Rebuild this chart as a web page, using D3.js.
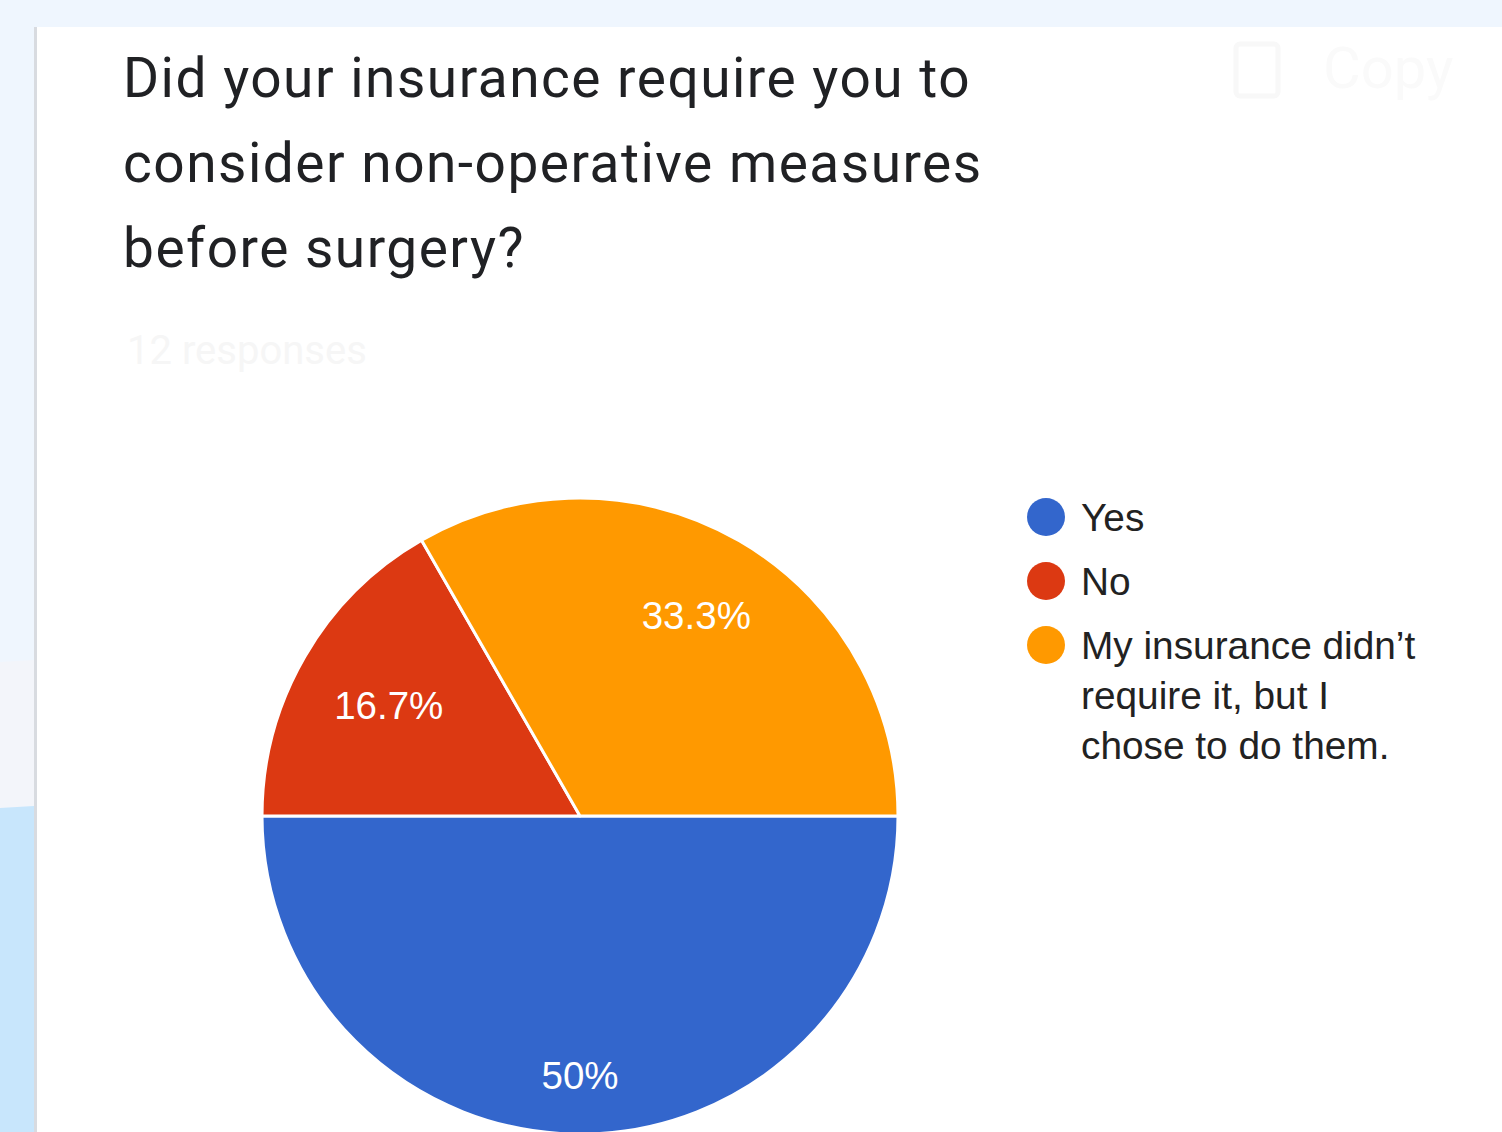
<!DOCTYPE html>
<html>
<head>
<meta charset="utf-8">
<script src="https://cdn.jsdelivr.net/npm/d3@7"></script>
<style>
  html, body { margin: 0; padding: 0; background: #eff6fe; }
  svg { display: block; }
</style>
</head>
<body>
<svg id="chart" width="1502" height="1132"></svg>
<script>
// Survey question and answers
const titleLines = [
  "Did your insurance require you to",
  "consider non-operative measures",
  "before surgery?"
];
const responsesNote = "12 responses";
const categories = ["Yes", "No", "My insurance didn\u2019t require it, but I chose to do them."];
const legendLines = [["Yes"], ["No"], ["My insurance didn\u2019t", "require it, but I", "chose to do them."]];
const shares = [50, 16.7, 33.3];
const sliceLabels = ["50%", "16.7%", "33.3%"];
const colors = ["#3366cc", "#dc3912", "#ff9900"];

const svg = d3.select("#chart");
const W = 1502, H = 1132;

// Page backdrop around the card
svg.append("rect").attr("x", 0).attr("y", 0).attr("width", W).attr("height", H).attr("fill", "#eff6fe");
svg.append("path").attr("d", "M0,662 L34,660 L34,806 L0,808 Z").attr("fill", "#f3f5fa");
svg.append("path").attr("d", "M0,808 L34,806 L34,1132 L0,1132 Z").attr("fill", "#c8e6fc");

// Card
svg.append("rect").attr("x", 34).attr("y", 27).attr("width", W - 34).attr("height", H - 27).attr("fill", "#ffffff");
svg.append("rect").attr("x", 34).attr("y", 27).attr("width", 3).attr("height", H - 27).attr("fill", "#d8dbe0");

// Faded header actions
svg.append("text").attr("x", 1323).attr("y", 88)
  .attr("font-family", "Roboto, sans-serif").attr("font-size", 58)
  .attr("fill", "#fafafa").text("Copy");
svg.append("rect").attr("x", 1236).attr("y", 44).attr("width", 42).attr("height", 52).attr("rx", 4)
  .attr("fill", "none").attr("stroke", "#f8f8f8").attr("stroke-width", 5);

// Title
const title = svg.append("text")
  .attr("font-family", "Roboto, sans-serif")
  .attr("font-size", 55)
  .attr("letter-spacing", 1.5)
  .attr("fill", "#202124");
titleLines.forEach((line, i) => {
  title.append("tspan").attr("x", 123).attr("y", 97 + i * 85).text(line);
});

svg.append("text").attr("x", 127).attr("y", 364)
  .attr("font-family", "Roboto, sans-serif").attr("font-size", 40)
  .attr("fill", "#f6f6f6").text(responsesNote);

// Pie
const cx = 580, cy = 816, radius = 318;
const pie = d3.pie().sort(null).value(d => d)
  .startAngle(Math.PI / 2).endAngle(Math.PI / 2 + 2 * Math.PI);
const arcs = pie(shares);
const arc = d3.arc().innerRadius(0).outerRadius(radius);

const g = svg.append("g").attr("transform", `translate(${cx},${cy})`);
g.selectAll("path.slice").data(arcs).join("path")
  .attr("class", "slice")
  .attr("d", arc)
  .attr("fill", (d, i) => colors[i])
  .attr("stroke", "#ffffff")
  .attr("stroke-width", 3)
  .attr("stroke-linejoin", "round");

// Percentage labels placed inside each slice
const labelRadius = [radius * 0.815, radius * 0.695, radius * 0.73];
g.selectAll("text.pct").data(arcs).join("text")
  .attr("class", "pct")
  .attr("transform", (d, i) => {
    const a = (d.startAngle + d.endAngle) / 2;
    const r = labelRadius[i];
    return `translate(${Math.sin(a) * r},${-Math.cos(a) * r})`;
  })
  .attr("text-anchor", "middle")
  .attr("dy", "0.36em")
  .attr("font-family", "Liberation Sans, Arial, sans-serif")
  .attr("font-size", 38.5)
  .attr("fill", "#ffffff")
  .text((d, i) => sliceLabels[i]);

// Legend
const legendY = [517, 581, 645];
const legend = svg.append("g");
categories.forEach((c, i) => {
  legend.append("circle").attr("cx", 1046).attr("cy", legendY[i]).attr("r", 19).attr("fill", colors[i]);
  const t = legend.append("text")
    .attr("font-family", "Liberation Sans, Arial, sans-serif")
    .attr("font-size", 38.8)
    .attr("fill", "#222222");
  legendLines[i].forEach((ln, j) => {
    t.append("tspan").attr("x", 1081).attr("y", legendY[i] + 14 + j * 50).text(ln);
  });
});
</script>
</body>
</html>
